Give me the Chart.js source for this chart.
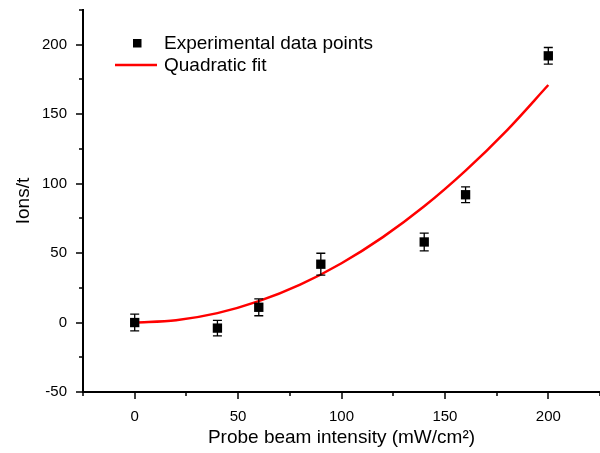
<!DOCTYPE html>
<html>
<head>
<meta charset="utf-8">
<script src="https://cdn.jsdelivr.net/npm/chart.js@4/dist/chart.umd.min.js"></script>
<style>
html,body{margin:0;padding:0;background:#fff;}
#wrap{width:600px;height:453px;}
</style>
</head>
<body>
<div id="wrap"><canvas id="c" width="600" height="453"></canvas></div>
<script>
// ---- data ----
const intensity = [0, 40, 60, 90, 140, 160, 200];
const ions = [0, -4, 11, 42, 58, 92, 192];
const ionErr = [6, 5.6, 6.1, 7.9, 6.4, 5.7, 6];
const fitX = [0, 20, 40, 60, 80, 100, 120, 140, 160, 180, 200];
const fitY = [0, 1.7, 6.8, 15.4, 27.3, 42.7, 61.5, 83.7, 109.4, 138.4, 171];
const legendLabels = ['Experimental data points', 'Quadratic fit'];
const xTitle = 'Probe beam intensity (mW/cm\u00B2)';
const yTitle = 'Ions/t';

const FONT = "'Liberation Sans', Arial, sans-serif";

const errorBars = {
  id: 'errorBars',
  afterDatasetsDraw(chart) {
    const ctx = chart.ctx, xs = chart.scales.x, ys = chart.scales.y;
    ctx.save();
    ctx.strokeStyle = '#000';
    ctx.lineWidth = 1.3;
    intensity.forEach((xv, i) => {
      const px = xs.getPixelForValue(xv);
      const top = ys.getPixelForValue(ions[i] + ionErr[i]);
      const bot = ys.getPixelForValue(ions[i] - ionErr[i]);
      ctx.beginPath();
      ctx.moveTo(px, top); ctx.lineTo(px, bot);
      ctx.moveTo(px - 4.5, top); ctx.lineTo(px + 4.5, top);
      ctx.moveTo(px - 4.5, bot); ctx.lineTo(px + 4.5, bot);
      ctx.stroke();
    });
    ctx.restore();
  }
};

const tickMarks = {
  id: 'tickMarks',
  afterDraw(chart) {
    const ctx = chart.ctx, xs = chart.scales.x, ys = chart.scales.y, a = chart.chartArea;
    ctx.save();
    ctx.strokeStyle = '#000';
    ctx.lineWidth = 1.5;
    ctx.beginPath();
    xs.ticks.forEach(t => {
      const px = Math.round(xs.getPixelForValue(t.value));
      const len = (t.value % 50 === 0) ? 7 : 4;
      ctx.moveTo(px, a.bottom); ctx.lineTo(px, a.bottom + len);
    });
    ys.ticks.forEach(t => {
      const py = Math.round(ys.getPixelForValue(t.value));
      const len = (t.value % 50 === 0) ? 7 : 4;
      ctx.moveTo(a.left, py); ctx.lineTo(a.left - len, py);
    });
    ctx.stroke();

    // legend
    ctx.fillStyle = '#000';
    ctx.fillRect(133, 39, 8.5, 8.5);
    ctx.strokeStyle = '#ff0000';
    ctx.lineWidth = 2.5;
    ctx.beginPath();
    ctx.moveTo(115, 65); ctx.lineTo(157, 65);
    ctx.stroke();
    ctx.fillStyle = '#000';
    ctx.font = '19px ' + FONT;
    ctx.textBaseline = 'middle';
    ctx.textAlign = 'left';
    ctx.fillText(legendLabels[0], 164, 44);
    ctx.fillText(legendLabels[1], 164, 66);
    ctx.restore();
  }
};

new Chart(document.getElementById('c'), {
  type: 'scatter',
  data: {
    datasets: [
      {
        label: legendLabels[1],
        data: fitX.map((x, i) => ({x: x, y: fitY[i]})),
        showLine: true,
        borderColor: '#ff0000',
        borderWidth: 2.5,
        pointRadius: 0,
        tension: 0.4,
        cubicInterpolationMode: 'monotone',
        order: 2
      },
      {
        label: legendLabels[0],
        data: intensity.map((x, i) => ({x: x, y: ions[i]})),
        pointStyle: 'rect',
        pointRadius: 6.6,
        backgroundColor: '#000',
        borderColor: '#000',
        borderWidth: 0,
        order: 1
      }
    ]
  },
  options: {
    responsive: false,
    animation: false,
    layout: { autoPadding: false, padding: { top: 10, right: 0, left: 0, bottom: 0 } },
    plugins: { legend: { display: false }, tooltip: { enabled: false } },
    scales: {
      x: {
        type: 'linear',
        min: -25, max: 225,
        afterFit(s) { s.height = 61; s.paddingLeft = 0; s.paddingRight = 0; },
        grid: { display: false },
        border: { display: true, color: '#000', width: 2 },
        ticks: {
          stepSize: 25, autoSkip: false, maxRotation: 0, padding: 8,
          color: '#000', font: { family: FONT, size: 15 },
          callback: v => (v % 50 === 0 && v >= 0 && v <= 200) ? String(v) : ''
        },
        title: {
          display: true, text: xTitle, color: '#000',
          font: { family: FONT, size: 19 }, padding: { top: 2, bottom: 4 }
        }
      },
      y: {
        type: 'linear',
        min: -50, max: 225,
        afterFit(s) { s.width = 83; s.paddingTop = 0; s.paddingBottom = 0; },
        grid: { display: false },
        border: { display: true, color: '#000', width: 2 },
        ticks: {
          stepSize: 25, autoSkip: false, padding: 8,
          color: '#000', font: { family: FONT, size: 15 },
          callback: v => (v % 50 === 0 && v <= 200) ? String(v) : ''
        },
        title: {
          display: true, text: yTitle, color: '#000',
          font: { family: FONT, size: 19 }, padding: { top: 12, bottom: 4 }
        }
      }
    }
  },
  plugins: [errorBars, tickMarks]
});
</script>
</body>
</html>
